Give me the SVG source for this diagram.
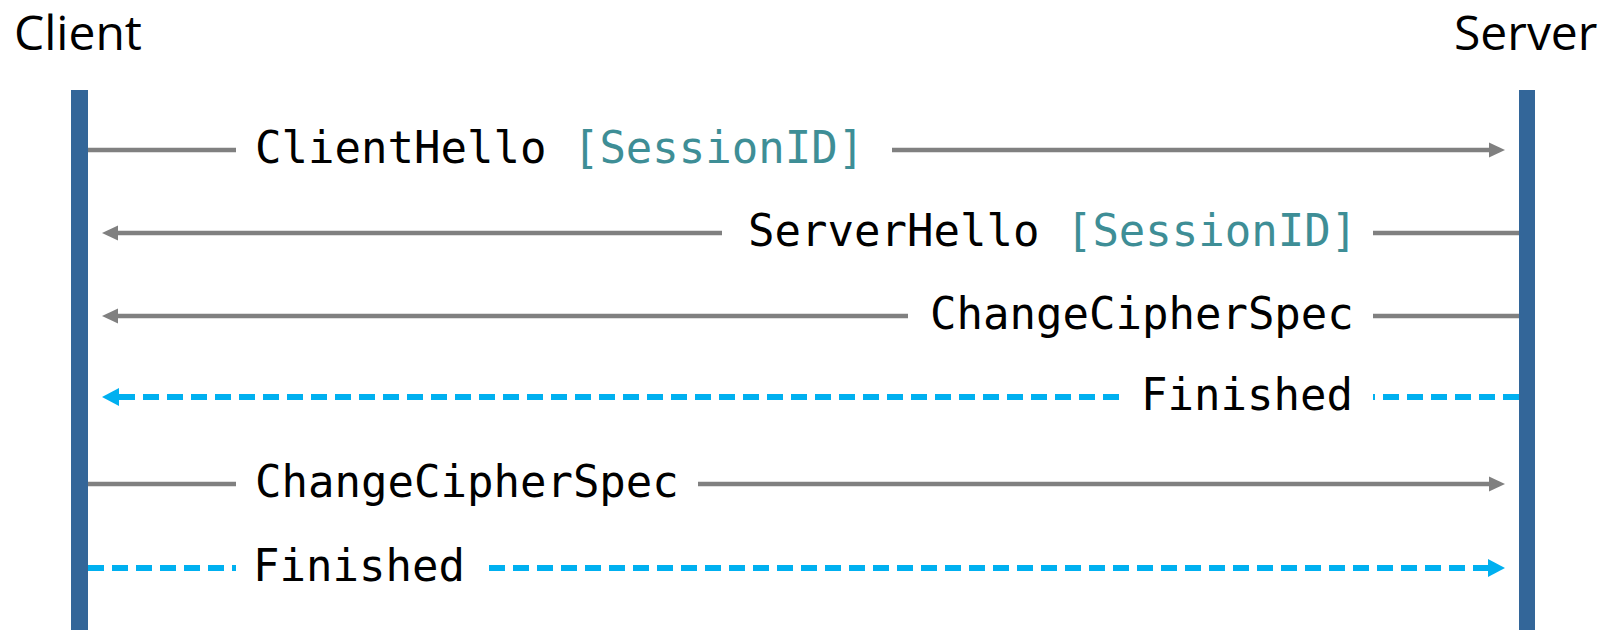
<svg xmlns="http://www.w3.org/2000/svg" width="1603" height="630" viewBox="0 0 1603 630">
  <style>
    .actor { font-family: "Open Sans", "Noto Sans", sans-serif; font-size: 48px; fill: #000; }
    .lifeline { fill: #336699; }
    .msg { font-family: "DejaVu Sans Mono", "Liberation Mono", monospace; font-size: 44px; fill: #000; }
    .param { fill: #3E8E96; }
    .solid { stroke: #808080; stroke-width: 4.5; fill: none; }
    .dashed { stroke: #00B0F0; stroke-width: 6; fill: none; stroke-dasharray: 16 8; }
  </style>
  <defs>
    <marker id="arrowGray" markerUnits="userSpaceOnUse" markerWidth="16" markerHeight="16" refX="0" refY="8" orient="auto">
      <path d="M0,0.5 L16,8 L0,15.5 Z" fill="#808080"/>
    </marker>
    <marker id="arrowBlue" markerUnits="userSpaceOnUse" markerWidth="17" markerHeight="18" refX="0" refY="9" orient="auto">
      <path d="M0,0 L17,9 L0,18 Z" fill="#00B0F0"/>
    </marker>
  </defs>

  <rect width="1603" height="630" fill="#ffffff"/>

  <!-- participants -->
  <g id="client">
    <text class="actor" x="14" y="50">Client</text>
    <rect class="lifeline" x="71" y="90" width="17" height="540"/>
  </g>
  <g id="server">
    <text class="actor" x="1454" y="50">Server</text>
    <rect class="lifeline" x="1519" y="90" width="16" height="540"/>
  </g>

  <!-- messages -->
  <g id="connectors">
    <g id="msg-client-hello">
      <line class="solid" x1="88" y1="150" x2="236" y2="150"/>
      <line class="solid" x1="892" y1="150" x2="1489" y2="150" marker-end="url(#arrowGray)"/>
      <text class="msg" x="255" y="163">ClientHello <tspan class="param">[SessionID]</tspan></text>
    </g>
    <g id="msg-server-hello">
      <line class="solid" x1="1519" y1="233" x2="1373" y2="233"/>
      <line class="solid" x1="722" y1="233" x2="118" y2="233" marker-end="url(#arrowGray)"/>
      <text class="msg" x="748" y="246">ServerHello <tspan class="param">[SessionID]</tspan></text>
    </g>
    <g id="msg-server-ccs">
      <line class="solid" x1="1519" y1="316" x2="1373" y2="316"/>
      <line class="solid" x1="908" y1="316" x2="118" y2="316" marker-end="url(#arrowGray)"/>
      <text class="msg" x="930" y="329">ChangeCipherSpec</text>
    </g>
    <g id="msg-server-finished">
      <line class="dashed" x1="1519" y1="397" x2="1373" y2="397"/>
      <line class="dashed" x1="1119" y1="397" x2="119" y2="397" marker-end="url(#arrowBlue)"/>
      <text class="msg" x="1141" y="410">Finished</text>
    </g>
    <g id="msg-client-ccs">
      <line class="solid" x1="88" y1="484" x2="236" y2="484"/>
      <line class="solid" x1="698" y1="484" x2="1489" y2="484" marker-end="url(#arrowGray)"/>
      <text class="msg" x="255" y="497">ChangeCipherSpec</text>
    </g>
    <g id="msg-client-finished">
      <line class="dashed" x1="88" y1="568" x2="236" y2="568"/>
      <line class="dashed" x1="489" y1="568" x2="1488" y2="568" marker-end="url(#arrowBlue)"/>
      <text class="msg" x="253" y="581">Finished</text>
    </g>
  </g>
</svg>
